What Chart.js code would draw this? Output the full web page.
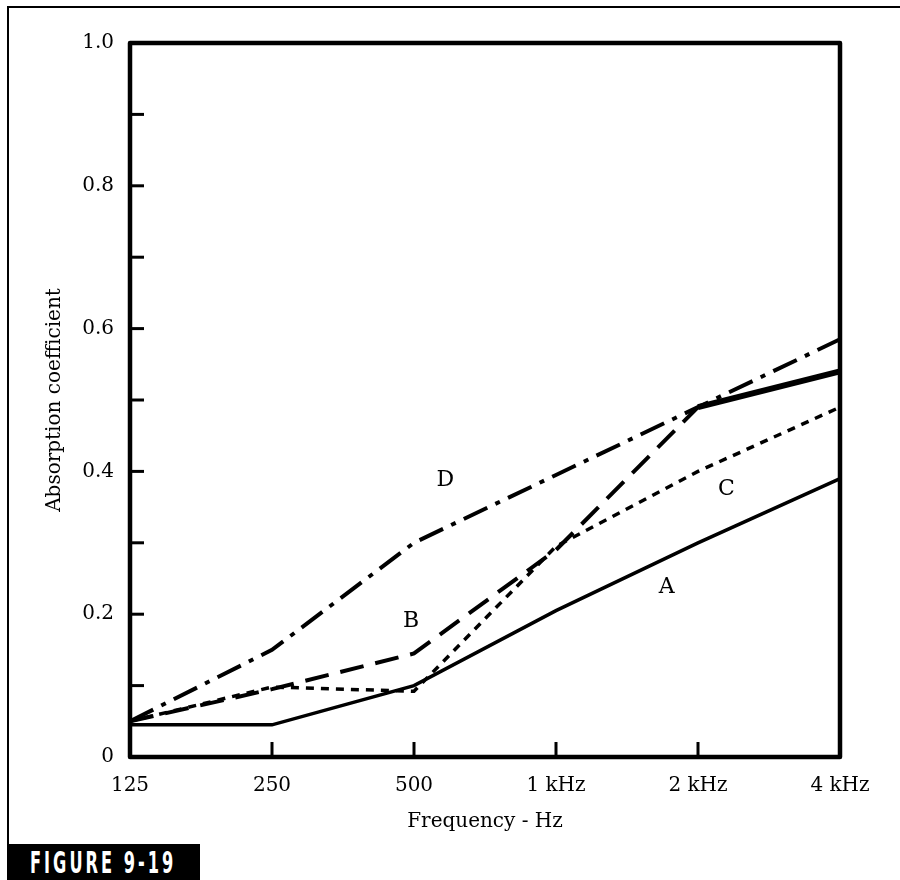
<!DOCTYPE html>
<html>
<head>
<meta charset="utf-8">
<script src="https://cdn.jsdelivr.net/npm/chart.js@4"></script>
<style>
  html, body { margin: 0; padding: 0; background: #fff; }
  #page { position: relative; width: 900px; height: 880px; overflow: hidden; }
  #frame {
    position: absolute; left: 7px; top: 6px; width: 900px; height: 838px;
    border-top: 2px solid #000; border-left: 2px solid #000;
  }
  #figTag {
    position: absolute; left: 7px; top: 844px; width: 193px; height: 36px;
    background: #000; overflow: hidden;
  }
  #figTag span {
    position: absolute; left: 23px; top: 0; color: #fff;
    font-family: "DejaVu Sans Condensed", "DejaVu Sans", sans-serif;
    font-weight: bold; font-size: 30px; line-height: 38px;
    letter-spacing: 5px; white-space: nowrap;
    transform: scaleX(0.6); transform-origin: left center;
  }
  #chart { position: absolute; left: 0; top: 0; }
</style>
</head>
<body>
<div id="page">
  <div id="frame"></div>
  <canvas id="chart" width="900" height="880"></canvas>
  <div id="figTag"><span>FIGURE 9-19</span></div>
</div>
<script>
// octave band centres
const freqLabels = ["125", "250", "500", "1 kHz", "2 kHz", "4 kHz"];

// absorption coefficients
const curveA = [0.045, 0.045, 0.10, 0.205, 0.30, 0.39];
const curveB = [0.05, 0.095, 0.145, 0.29, 0.49, 0.54];
const curveC = [0.05, 0.098, 0.092, 0.295, 0.40, 0.49];
const curveD = [0.05, 0.15, 0.30, 0.395, 0.49, 0.585];

const curveNames = ["A", "B", "C", "D"];
// where each curve letter sits (band index, coefficient)
const labelSpots = [[3.78, 0.238], [1.98, 0.19], [4.2, 0.375], [2.22, 0.388]];

const minorTicks = [0.1, 0.2, 0.3, 0.4, 0.5, 0.6, 0.7, 0.8, 0.9];

const serif = "'DejaVu Serif', 'Liberation Serif', serif";

const framePlugin = {
  id: "frame",
  afterDatasetsDraw(chart) {
    const { ctx, chartArea: a, scales } = chart;
    ctx.save();
    ctx.strokeStyle = "#000";
    ctx.lineJoin = "round";
    ctx.lineWidth = 4.5;
    ctx.strokeRect(a.left, a.top, a.right - a.left, a.bottom - a.top);

    // inward tick marks
    ctx.lineWidth = 3;
    minorTicks.forEach((v) => {
      const y = scales.y.getPixelForValue(v);
      ctx.beginPath();
      ctx.moveTo(a.left, y);
      ctx.lineTo(a.left + 14, y);
      ctx.stroke();
    });
    for (let i = 1; i < freqLabels.length - 1; i++) {
      const x = scales.x.getPixelForValue(i);
      ctx.beginPath();
      ctx.moveTo(x, a.bottom);
      ctx.lineTo(x, a.bottom - 15);
      ctx.stroke();
    }

    // curve letters
    ctx.fillStyle = "#000";
    ctx.font = "22px " + serif;
    ctx.textAlign = "center";
    ctx.textBaseline = "middle";
    curveNames.forEach((name, i) => {
      const [xi, yv] = labelSpots[i];
      ctx.fillText(name, scales.x.getPixelForValue(xi), scales.y.getPixelForValue(yv));
    });
    ctx.restore();
  },
};

new Chart(document.getElementById("chart"), {
  type: "line",
  data: {
    labels: freqLabels,
    datasets: [
      { label: "A", data: curveA, borderWidth: 3.5 },
      {
        label: "B", data: curveB, borderWidth: 4, borderDash: [24, 12],
        segment: {
          borderDash: (c) => (c.p0DataIndex === 4 ? [] : undefined),
          borderWidth: (c) => (c.p0DataIndex === 4 ? 6 : undefined),
        },
      },
      { label: "C", data: curveC, borderWidth: 3.5, borderDash: [8, 7] },
      { label: "D", data: curveD, borderWidth: 4, borderDash: [26, 9, 5, 9] },
    ],
  },
  options: {
    responsive: false,
    animation: false,
    layout: { padding: { left: 0, top: 43, right: 60, bottom: 0 } },
    elements: {
      line: { borderColor: "#000", tension: 0, fill: false, borderCapStyle: "butt" },
      point: { radius: 0 },
    },
    plugins: { legend: { display: false }, tooltip: { enabled: false } },
    scales: {
      x: {
        type: "category",
        offset: false,
        grid: { display: false },
        border: { display: false },
        ticks: { color: "#000", font: { family: serif, size: 20 }, padding: 9, maxRotation: 0 },
        title: {
          display: true, text: "Frequency - Hz", color: "#000",
          font: { family: serif, size: 20 }, padding: 46,
        },
        afterFit: (s) => { s.height = 123; },
      },
      y: {
        min: 0, max: 1,
        grid: { display: false },
        border: { display: false },
        ticks: {
          stepSize: 0.2, color: "#000", font: { family: serif, size: 20 }, padding: 8,
          callback: (v) => (v === 0 ? "0" : Number(v).toFixed(1)),
        },
        title: {
          display: true, text: "Absorption coefficient", color: "#000",
          font: { family: serif, size: 20 }, padding: 43,
        },
        afterFit: (s) => { s.width = 130; },
      },
    },
  },
  plugins: [framePlugin],
});
</script>
</body>
</html>
